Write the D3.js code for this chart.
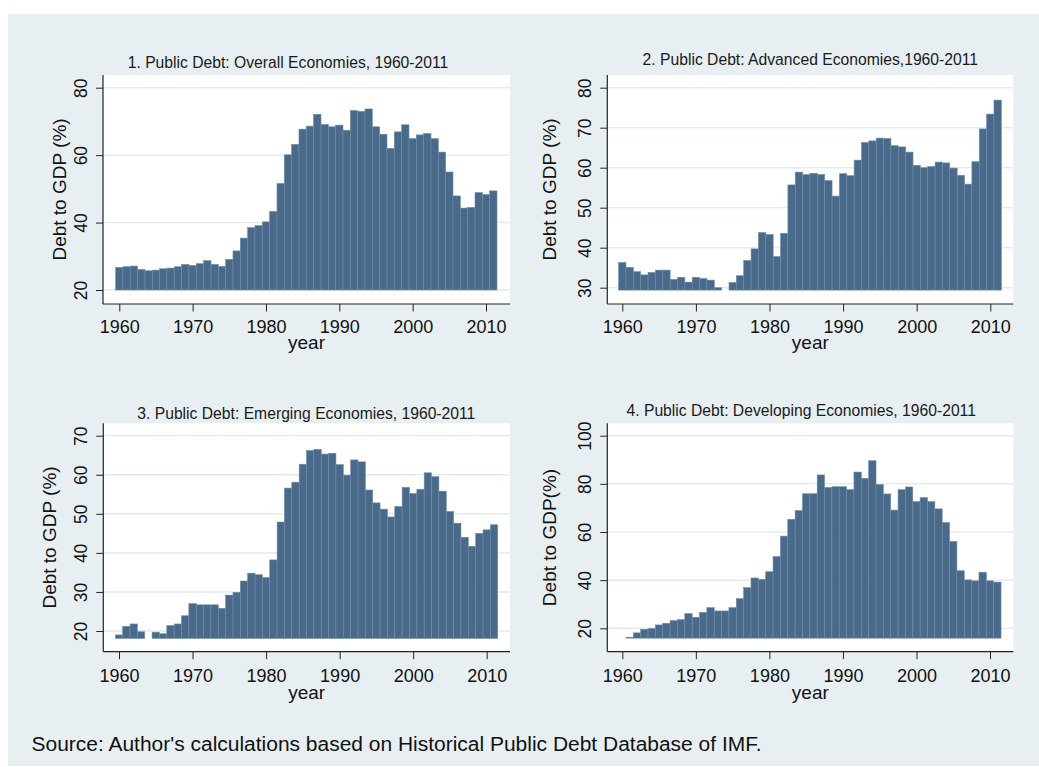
<!DOCTYPE html>
<html>
<head>
<meta charset="utf-8">
<script src="https://cdn.jsdelivr.net/npm/d3@7"></script>
<style>
  body { margin: 0; background: #fff; }
  svg { display: block; font-family: "Liberation Sans", Arial, sans-serif; }
</style>
</head>
<body>
<div id="chart"></div>
<script>
// years on the x axis
const years = [
  1960, 1961, 1962, 1963, 1964, 1965, 1966, 1967, 1968, 1969,
  1970, 1971, 1972, 1973, 1974, 1975, 1976, 1977, 1978, 1979,
  1980, 1981, 1982, 1983, 1984, 1985, 1986, 1987, 1988, 1989,
  1990, 1991, 1992, 1993, 1994, 1995, 1996, 1997, 1998, 1999,
  2000, 2001, 2002, 2003, 2004, 2005, 2006, 2007, 2008, 2009,
  2010, 2011
];

// debt to GDP (%)
const overallDebt = [
  26.7, 26.9, 27.1, 26.1, 25.7, 25.9, 26.3, 26.5, 26.9, 27.6,
  27.3, 27.8, 28.7, 27.6, 27.0, 29.1, 31.6, 35.4, 38.5, 39.1,
  40.2, 43.3, 51.6, 60.1, 63.2, 67.7, 68.6, 72.1, 69.1, 68.4,
  68.9, 67.4, 73.2, 73.0, 73.7, 68.4, 66.2, 62.0, 66.9, 69.0,
  64.9, 66.0, 66.4, 64.9, 60.9, 55.0, 47.9, 44.3, 44.5, 48.9,
  48.3, 49.4
];
const advancedDebt = [
  36.3, 35.1, 34.0, 33.2, 33.8, 34.4, 34.4, 32.1, 32.6, 31.4,
  32.6, 32.3, 31.9, 30.0, null, 31.3, 33.0, 36.8, 39.7, 43.8,
  43.3, 37.8, 43.6, 55.7, 58.9, 58.3, 58.6, 58.3, 56.8, 52.9,
  58.5, 58.0, 61.9, 66.3, 66.7, 67.4, 67.3, 65.5, 65.2, 63.9,
  60.6, 60.0, 60.3, 61.4, 61.2, 59.9, 58.1, 55.9, 61.5, 69.7,
  73.4, 76.9
];
const emergingDebt = [
  19.0, 21.2, 21.8, 19.8, null, 19.7, 19.3, 21.4, 21.8, 23.9,
  27.0, 26.7, 26.7, 26.7, 25.8, 29.2, 29.9, 32.8, 34.8, 34.4,
  33.7, 38.2, 47.9, 56.6, 58.1, 62.7, 66.2, 66.5, 65.3, 65.5,
  62.6, 59.9, 63.8, 63.3, 56.1, 52.8, 51.2, 49.2, 51.9, 56.8,
  55.2, 56.3, 60.5, 59.5, 55.8, 50.6, 47.6, 44.0, 41.7, 45.0,
  45.9, 47.2
];
const developingDebt = [
  null, 16.3, 18.1, 19.6, 19.9, 21.4, 22.1, 23.2, 23.6, 26.1,
  24.6, 26.6, 28.6, 27.2, 27.2, 28.6, 32.3, 36.9, 40.9, 40.3,
  43.5, 49.8, 58.3, 65.3, 68.9, 75.9, 75.9, 83.7, 78.5, 78.8,
  78.8, 77.6, 84.9, 82.3, 89.6, 79.7, 75.8, 69.1, 77.6, 78.7,
  72.6, 74.3, 72.6, 69.6, 63.9, 56.1, 43.9, 40.1, 39.7, 43.3,
  39.7, 39.2
];

// bars start at the bottom of each data range, not at zero
const barBases = [20, 29.4, 18.1, 15.9];

const xTicks = [1960, 1970, 1980, 1990, 2000, 2010];
const yTicksOverall = [20, 40, 60, 80];
const yTicksAdvanced = [30, 40, 50, 60, 70, 80];
const yTicksEmerging = [20, 30, 40, 50, 60, 70];
const yTicksDeveloping = [20, 40, 60, 80, 100];

const titles = [
  "1. Public Debt: Overall Economies, 1960-2011",
  "2. Public Debt: Advanced Economies,1960-2011",
  "3. Public Debt: Emerging Economies, 1960-2011",
  "4. Public Debt: Developing Economies, 1960-2011"
];
const yTitles = ["Debt to GDP (%)", "Debt to GDP (%)", "Debt to GDP (%)", "Debt to GDP(%)"];
const xTitle = "year";
const sourceNote = "Source: Author's calculations based on Historical Public Debt Database of IMF.";

const W = 1039, H = 767;
const BAR = '#4a6a8b';

const svg = d3.select('#chart').append('svg')
    .attr('width', W)
    .attr('height', H);

// graph region background
svg.append('rect')
    .attr('x', 8).attr('y', 14)
    .attr('width', W - 8).attr('height', H - 15)
    .attr('fill', '#e8eff2');

// plot boxes (pixels) for each panel
const panels = [
    { series: overallDebt, ticks: yTicksOverall, left: 103, right: 510, top: 75, bottom: 304,
      yTop: 87.7, yBot: 290, x0: 119.3, x1: 486, titleX: 288, titleY: 67.5,
      yTitleX: 65.5, xLabelY: 333, yearY: 349 },
    { series: advancedDebt, ticks: yTicksAdvanced, left: 607.3, right: 1013.3, top: 75, bottom: 304,
      yTop: 87.7, yBot: 287.7, x0: 622.3, x1: 990.3, titleX: 810.3, titleY: 64.5,
      yTitleX: 556.3, xLabelY: 333, yearY: 349 },
    { series: emergingDebt, ticks: yTicksEmerging, left: 103.3, right: 510, top: 423.3, bottom: 651.7,
      yTop: 435.7, yBot: 631, x0: 119, x1: 486.7, titleX: 306.3, titleY: 418.5,
      yTitleX: 56.3, xLabelY: 682, yearY: 699 },
    { series: developingDebt, ticks: yTicksDeveloping, left: 607.3, right: 1013.3, top: 423.3, bottom: 651.7,
      yTop: 435.7, yBot: 628.3, x0: 622.3, x1: 990, titleX: 801.2, titleY: 415.5,
      yTitleX: 555.5, xLabelY: 682, yearY: 699 }
];

panels.forEach((p, i) => {
    const ticks = p.ticks;
    const x = d3.scaleLinear()
        .domain([xTicks[0], xTicks[xTicks.length - 1]])
        .range([p.x0, p.x1]);
    const y = d3.scaleLinear()
        .domain([ticks[0], ticks[ticks.length - 1]])
        .range([p.yBot, p.yTop]);
    const bw = x(1961) - x(1960);
    const g = svg.append('g');

    // white plot region
    g.append('rect')
        .attr('x', p.left).attr('y', p.top)
        .attr('width', p.right - p.left).attr('height', p.bottom - p.top)
        .attr('fill', '#fff');

    // gridlines
    g.selectAll('line.grid')
        .data(ticks)
        .join('line')
        .attr('class', 'grid')
        .attr('x1', p.left).attr('x2', p.right)
        .attr('y1', d => y(d)).attr('y2', d => y(d))
        .attr('stroke', '#e2ebef')
        .attr('stroke-width', 1.5);

    // bars
    const rows = years.map((yr, k) => ({ year: yr, value: p.series[k] }))
        .filter(d => d.value !== null);
    g.append('g')
        .selectAll('rect')
        .data(rows)
        .join('rect')
        .attr('x', d => x(d.year) - bw / 2)
        .attr('width', bw)
        .attr('y', d => y(d.value))
        .attr('height', d => y(barBases[i]) - y(d.value))
        .attr('fill', BAR)
        .attr('stroke', '#6f8ba6')
        .attr('stroke-width', 0.6);

    // y axis
    const yAxis = g.append('g')
        .attr('transform', `translate(${p.left},0)`)
        .call(d3.axisLeft(y).tickValues(ticks).tickSize(7).tickSizeOuter(0));
    yAxis.select('.domain').remove();
    yAxis.selectAll('line').attr('stroke', '#222');
    yAxis.selectAll('text')
        .attr('transform', 'rotate(-90)')
        .attr('x', 0).attr('y', -16.3).attr('dy', 0)
        .attr('text-anchor', 'middle')
        .attr('font-size', 17.5)
        .attr('font-family', '"Liberation Sans", Arial, sans-serif')
        .attr('fill', '#111');

    // x axis
    const xAxis = g.append('g')
        .attr('transform', `translate(0,${p.bottom})`)
        .call(d3.axisBottom(x).tickValues(xTicks).tickFormat(d3.format('d')).tickSize(7.5).tickSizeOuter(0));
    xAxis.select('.domain').remove();
    xAxis.selectAll('line').attr('stroke', '#222');
    xAxis.selectAll('text')
        .attr('y', p.xLabelY - p.bottom).attr('dy', 0)
        .attr('font-size', 18)
        .attr('font-family', '"Liberation Sans", Arial, sans-serif')
        .attr('fill', '#111');

    // axis lines
    g.append('line')
        .attr('x1', p.left).attr('x2', p.left)
        .attr('y1', p.top).attr('y2', p.bottom)
        .attr('stroke', '#222').attr('stroke-width', 1.2);
    g.append('line')
        .attr('x1', p.left).attr('x2', p.right)
        .attr('y1', p.bottom).attr('y2', p.bottom)
        .attr('stroke', '#222').attr('stroke-width', 1.2);

    // titles
    g.append('text')
        .attr('x', p.titleX).attr('y', p.titleY)
        .attr('text-anchor', 'middle')
        .attr('font-size', 15.7)
        .attr('fill', '#1a1a1a')
        .text(titles[i]);

    g.append('text')
        .attr('transform', `translate(${p.yTitleX},${(p.top + p.bottom) / 2}) rotate(-90)`)
        .attr('text-anchor', 'middle')
        .attr('font-size', 19)
        .attr('fill', '#111')
        .text(yTitles[i]);

    g.append('text')
        .attr('x', (p.left + p.right) / 2).attr('y', p.yearY)
        .attr('text-anchor', 'middle')
        .attr('font-size', 19)
        .attr('fill', '#111')
        .text(xTitle);
});

// source note
svg.append('text')
    .attr('x', 31.5).attr('y', 750.5)
    .attr('font-size', 19.5)
    .attr('textLength', 730)
    .attr('lengthAdjust', 'spacingAndGlyphs')
    .attr('fill', '#111')
    .text(sourceNote);
</script>
</body>
</html>
